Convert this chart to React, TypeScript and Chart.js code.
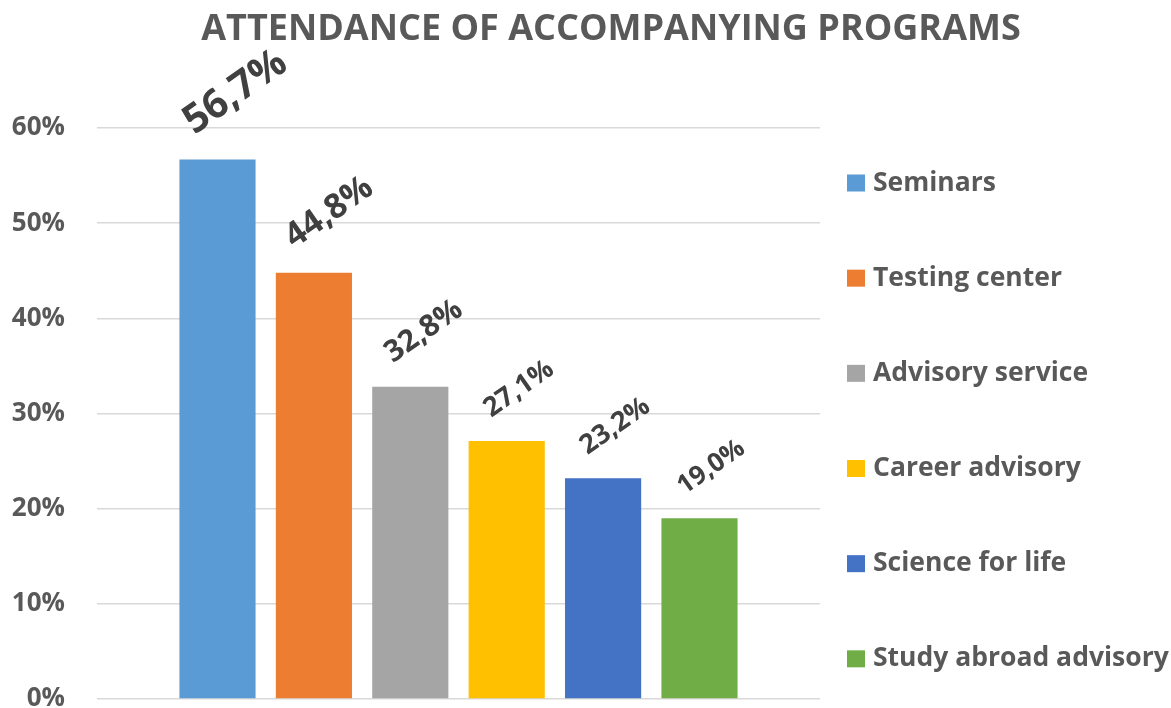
import React, { useEffect, useRef } from "react";
import { Chart, registerables } from "chart.js";

Chart.register(...registerables);

const TITLE = "ATTENDANCE OF ACCOMPANYING PROGRAMS";
const CATEGORIES = [
  "Seminars",
  "Testing center",
  "Advisory service",
  "Career advisory",
  "Science for life",
  "Study abroad advisory",
];
const VALUES = [0.567, 0.448, 0.328, 0.271, 0.232, 0.19];
const COLORS = ["#5B9BD5", "#ED7D31", "#A5A5A5", "#FFC000", "#4472C4", "#70AD47"];
const LABEL_FONT_SIZES = [40, 34, 30, 27, 27, 26];
const Y_MIN = 0;
const Y_MAX = 0.6;
const Y_STEP = 0.1;

const FONT = "'Open Sans', sans-serif";
const TEXT_GRAY = "#595959";
const LABEL_DARK = "#404040";

const fmtPct = (v: number) => (v * 100).toFixed(1).replace(".", ",") + "%";

const titlePlugin = {
  id: "customTitle",
  afterDraw(chart: any) {
    const ctx = chart.ctx;
    ctx.save();
    ctx.font = `bold 36px ${FONT}`;
    ctx.fillStyle = TEXT_GRAY;
    ctx.textAlign = "center";
    ctx.textBaseline = "alphabetic";
    ctx.fillText(TITLE, 603, 32);
    ctx.restore();
  },
};

const legendPlugin = {
  id: "customLegend",
  afterDraw(chart: any) {
    const ctx = chart.ctx;
    const area = chart.chartArea;
    const step = (area.bottom - area.top) / CATEGORIES.length;
    ctx.save();
    ctx.font = `bold 26.5px ${FONT}`;
    ctx.textBaseline = "middle";
    ctx.textAlign = "left";
    chart.data.datasets.forEach((ds: any, i: number) => {
      const cy = area.top + 55 + i * step;
      const bx = area.right + 27;
      ctx.fillStyle = ds.backgroundColor;
      ctx.fillRect(bx, cy - 8.5, 18, 17);
      ctx.fillStyle = TEXT_GRAY;
      ctx.fillText(ds.label, bx + 26, cy);
    });
    ctx.restore();
  },
};

const labelPlugin = {
  id: "rotatedLabels",
  afterDatasetsDraw(chart: any) {
    const ctx = chart.ctx;
    ctx.save();
    chart.data.datasets.forEach((ds: any, i: number) => {
      const meta = chart.getDatasetMeta(i);
      const el = meta.data[0];
      if (!el) return;
      const size = LABEL_FONT_SIZES[i];
      const cx = el.x + 0.45 * size;
      const cy = el.y - (1.15 * size + 21);
      ctx.save();
      ctx.translate(cx, cy);
      ctx.rotate((-35 * Math.PI) / 180);
      ctx.font = `bold ${size}px ${FONT}`;
      ctx.fillStyle = LABEL_DARK;
      ctx.textAlign = "center";
      ctx.textBaseline = "middle";
      ctx.fillText(fmtPct(ds.data[0]), 0, 0);
      ctx.restore();
    });
    ctx.restore();
  },
};

export default function App() {
  const canvasRef = useRef<HTMLCanvasElement | null>(null);

  useEffect(() => {
    document.documentElement.style.overflow = "hidden";
    document.body.style.margin = "8px 0 0 8px";
    const canvas = canvasRef.current;
    if (!canvas) return;
    const chart = new Chart(canvas, {
      type: "bar",
      data: {
        labels: [""],
        datasets: CATEGORIES.map((name, i) => ({
          label: name,
          data: [VALUES[i]],
          backgroundColor: COLORS[i],
          borderWidth: 0,
          categoryPercentage: 0.8,
          barPercentage: 0.79,
        })),
      },
      options: {
        responsive: false,
        animation: false,
        devicePixelRatio: 1,
        layout: { padding: { top: 120, bottom: 29, right: 351, left: 0 } },
        plugins: {
          legend: { display: false },
          title: { display: false },
          tooltip: { enabled: false },
        },
        scales: {
          x: { display: false },
          y: {
            min: Y_MIN,
            max: Y_MAX,
            border: { display: false },
            grid: { color: "#D9D9D9", lineWidth: 1.5, drawTicks: false },
            ticks: {
              stepSize: Y_STEP,
              padding: 32,
              color: TEXT_GRAY,
              font: { family: FONT, weight: "bold", size: 26 },
              callback: (v: any) => Math.round(Number(v) * 100) + "%",
            },
            afterFit: (scale: any) => {
              scale.width = 89;
              scale.paddingTop = 0;
              scale.paddingBottom = 0;
            },
          },
        },
      },
      plugins: [labelPlugin, titlePlugin, legendPlugin],
    });
    return () => chart.destroy();
  }, []);

  return (
    <div style={{ width: 1163, height: 700, overflow: "hidden" }}>
      <canvas
        ref={canvasRef}
        width={1163}
        height={720}
        style={{ display: "block", width: 1163, height: 720 }}
      />
    </div>
  );
}
